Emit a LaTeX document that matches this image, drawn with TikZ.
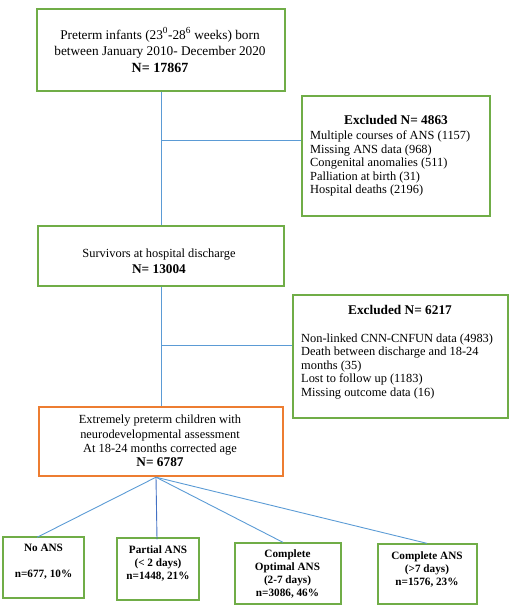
\documentclass[tikz,border=0pt]{standalone}
\usepackage{fontspec}
\setmainfont{Liberation Serif}
\definecolor{boxgreen}{HTML}{70AD47}
\definecolor{boxorange}{HTML}{ED7D31}
\definecolor{linkblue}{HTML}{5B9BD5}
\definecolor{linkdark}{HTML}{4472C4}
\begin{document}
\begin{tikzpicture}[x=1pt,y=-1pt,
  gbox/.style={draw=boxgreen,line width=1.3pt,inner sep=0pt,fill=white},
  obox/.style={draw=boxorange,line width=2.4pt,inner sep=0pt,fill=white},
  maintxt/.style={inner sep=0pt,align=center,font=\fontsize{12.4}{16}\selectfont},
  listtxt/.style={inner sep=0pt,align=left,anchor=west,font=\fontsize{12.4}{13.5}\selectfont},
  titletxt/.style={inner sep=0pt,font=\fontsize{13.3}{16}\selectfont\bfseries},
  smalltxt/.style={inner sep=0pt,align=center,font=\fontsize{11.2}{13}\selectfont\bfseries},
  link/.style={draw=linkblue,line width=0.9pt}
]
\useasboundingbox (0,0) rectangle (514,613);

% boxes
\node[gbox,minimum width=248pt,minimum height=82pt] (top) at (161,50) {};
\node[gbox,minimum width=188pt,minimum height=120pt] (ex1) at (396,156) {};
\node[gbox,minimum width=246pt,minimum height=60pt] (surv) at (161,256) {};
\node[gbox,minimum width=215pt,minimum height=123pt] (ex2) at (400.5,356.5) {};
\node[obox,minimum width=244pt,minimum height=69pt] (ort) at (161,441.5) {};
\node[gbox,minimum width=81pt,minimum height=61pt] (none) at (43.5,567.5) {};
\node[gbox,minimum width=82pt,minimum height=62pt] (part) at (158,569) {};
\node[gbox,minimum width=106pt,minimum height=61pt] (opt) at (288,573.5) {};
\node[gbox,minimum width=99pt,minimum height=60pt] (comp) at (427.5,574) {};

% texts
\node[maintxt,font=\fontsize{13.3}{16.5}\selectfont] (toptext) at (160,50)
  {Preterm infants (23\textsuperscript{0}-28\textsuperscript{6} weeks) born\\
   between January 2010- December 2020\\
   {\fontsize{14}{16.5}\selectfont\bfseries N= 17867}};
\node[titletxt] (ex1title) at (396,120) {Excluded N= 4863};
\node[listtxt] (ex1list) at (310,163.5)
  {Multiple courses of ANS (1157)\\
   Missing ANS data (968)\\
   Congenital anomalies (511)\\
   Palliation at birth (31)\\
   Hospital deaths (2196)};
\node[maintxt] (survtext) at (159,261)
  {Survivors at hospital discharge\\
   {\fontsize{13.3}{16}\selectfont\bfseries N= 13004}};
\node[titletxt] (ex2title) at (400,310) {Excluded N= 6217};
\node[listtxt] (ex2list) at (301,366.5)
  {Non-linked CNN-CNFUN data (4983)\\
   Death between discharge and 18-24\\
   months (35)\\
   Lost to follow up (1183)\\
   Missing outcome data (16)};
\node[maintxt,font=\fontsize{12.4}{14.3}\selectfont] (orttext) at (160,441)
  {Extremely preterm children with\\
   neurodevelopmental assessment\\
   At 18-24 months corrected age\\
   {\fontsize{13.3}{14.3}\selectfont\bfseries N= 6787}};
\node[smalltxt] (nonetext) at (43.5,562) {No ANS\\[13pt] n=677, 10\%};
\node[smalltxt] (parttext) at (158,563.5) {Partial ANS\\ (< 2 days)\\ n=1448, 21\%};
\node[smalltxt] (opttext) at (287.5,574) {Complete\\ Optimal ANS\\ (2-7 days)\\ n=3086, 46\%};
\node[smalltxt] (comptext) at (427,569.5) {Complete ANS\\ (>7 days)\\ n=1576, 23\%};

% connectors
\coordinate (b1) at (161,140);
\coordinate (b2) at (161,345);
\draw[link] (top.south) -- (surv.north);
\draw[link] (surv.south) -- (ort.north);
\draw[link] (b1) -- (b1 -| ex1.west);
\draw[link] (b2) -- (b2 -| ex2.west);
\coordinate (fan) at ([xshift=-5pt]ort.south);
\draw[link] (fan) -- ([xshift=-6.5pt,yshift=-1pt]none.north);
\draw[link,draw=linkdark] (fan) -- ([xshift=-1pt,yshift=-2pt]part.north);
\draw[link] (fan) -- ([xshift=-5pt]opt.north);
\draw[link] (fan) -- ([xshift=-0.5pt]comp.north);
\end{tikzpicture}
\end{document}
